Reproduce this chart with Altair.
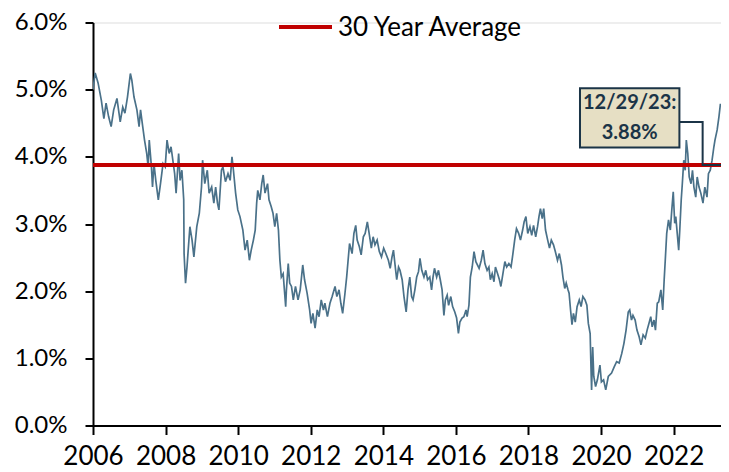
import altair as alt
import pandas as pd

# 10-year yield series (decimal year, percent)
YEARS = [
    2006.00, 2006.06, 2006.14, 2006.23, 2006.30, 2006.36, 2006.43, 2006.50, 2006.57, 2006.66,
    2006.75, 2006.82, 2006.88, 2006.95, 2007.03, 2007.07, 2007.13, 2007.21, 2007.27, 2007.31,
    2007.37, 2007.42, 2007.48, 2007.52, 2007.55, 2007.61, 2007.64, 2007.68, 2007.73, 2007.80,
    2007.86, 2007.93, 2007.99, 2008.04, 2008.10, 2008.15, 2008.20, 2008.25, 2008.29, 2008.36,
    2008.40, 2008.45, 2008.50, 2008.51, 2008.55, 2008.59, 2008.63, 2008.67, 2008.73, 2008.78,
    2008.86, 2008.93, 2008.99, 2009.02, 2009.08, 2009.15, 2009.20, 2009.27, 2009.33, 2009.38,
    2009.43, 2009.47, 2009.54, 2009.58, 2009.65, 2009.72, 2009.78, 2009.83, 2009.87, 2009.93,
    2009.99, 2010.05, 2010.13, 2010.19, 2010.25, 2010.31, 2010.36, 2010.42, 2010.47, 2010.51,
    2010.54, 2010.60, 2010.65, 2010.69, 2010.74, 2010.81, 2010.85, 2010.91, 2010.96, 2011.01,
    2011.06, 2011.11, 2011.15, 2011.19, 2011.24, 2011.31, 2011.33, 2011.38, 2011.42, 2011.47,
    2011.52, 2011.58, 2011.65, 2011.71, 2011.78, 2011.83, 2011.90, 2011.97, 2012.01, 2012.06,
    2012.12, 2012.18, 2012.23, 2012.29, 2012.35, 2012.39, 2012.46, 2012.53, 2012.59, 2012.67,
    2012.72, 2012.78, 2012.83, 2012.88, 2012.94, 2012.99, 2013.03, 2013.07, 2013.14, 2013.19,
    2013.24, 2013.28, 2013.34, 2013.39, 2013.45, 2013.50, 2013.56, 2013.61, 2013.67, 2013.72,
    2013.77, 2013.83, 2013.89, 2013.95, 2014.01, 2014.07, 2014.14, 2014.19, 2014.24, 2014.28,
    2014.33, 2014.37, 2014.42, 2014.46, 2014.52, 2014.57, 2014.63, 2014.68, 2014.73, 2014.78,
    2014.82, 2014.87, 2014.92, 2014.97, 2015.01, 2015.06, 2015.12, 2015.17, 2015.22, 2015.28,
    2015.33, 2015.37, 2015.41, 2015.47, 2015.52, 2015.57, 2015.62, 2015.67, 2015.71, 2015.76,
    2015.80, 2015.86, 2015.91, 2015.97, 2016.02, 2016.07, 2016.11, 2016.17, 2016.22, 2016.28,
    2016.31, 2016.36, 2016.40, 2016.45, 2016.50, 2016.55, 2016.64, 2016.70, 2016.75, 2016.80,
    2016.86, 2016.91, 2016.95, 2017.00, 2017.05, 2017.09, 2017.15, 2017.20, 2017.24, 2017.29,
    2017.35, 2017.40, 2017.46, 2017.52, 2017.56, 2017.62, 2017.67, 2017.73, 2017.78, 2017.84,
    2017.88, 2017.93, 2017.98, 2018.04, 2018.09, 2018.14, 2018.20, 2018.25, 2018.29, 2018.33,
    2018.38, 2018.42, 2018.47, 2018.53, 2018.58, 2018.63, 2018.69, 2018.74, 2018.80, 2018.85,
    2018.91, 2018.95, 2019.00, 2019.04, 2019.09, 2019.12, 2019.16, 2019.20, 2019.24, 2019.29,
    2019.34, 2019.40, 2019.45, 2019.50, 2019.56, 2019.61, 2019.65, 2019.70, 2019.72, 2019.74,
    2019.77, 2019.80, 2019.85, 2019.90, 2019.97, 2020.01, 2020.07, 2020.13, 2020.20, 2020.29,
    2020.36, 2020.43, 2020.50, 2020.57, 2020.63, 2020.69, 2020.75, 2020.79, 2020.84, 2020.88,
    2020.94, 2020.99, 2021.05, 2021.10, 2021.16, 2021.22, 2021.27, 2021.32, 2021.37, 2021.41,
    2021.46, 2021.50, 2021.55, 2021.59, 2021.65, 2021.70, 2021.74, 2021.77, 2021.81, 2021.86,
    2021.91, 2021.95, 2021.99, 2022.03, 2022.06, 2022.10, 2022.14, 2022.17, 2022.21, 2022.24,
    2022.28, 2022.32, 2022.35, 2022.39, 2022.43, 2022.48, 2022.52, 2022.56, 2022.61, 2022.65,
    2022.70, 2022.75, 2022.81, 2022.86, 2022.92, 2022.96, 2023.01, 2023.06, 2023.11, 2023.14,
    2023.20, 2023.25, 2023.29,
]
YIELDS = [
    5.00, 5.25, 5.10, 4.84, 4.57, 4.80, 4.60, 4.45, 4.70, 4.87,
    4.52, 4.74, 4.65, 4.89, 5.24, 5.14, 4.89, 4.70, 4.45, 4.70,
    4.45, 4.25, 4.05, 3.85, 4.25, 3.85, 3.55, 3.90, 3.65, 3.36,
    3.60, 3.90, 3.85, 4.25, 4.05, 4.15, 3.95, 3.75, 3.46, 4.05,
    3.65, 3.80, 3.36, 2.56, 2.12, 2.36, 2.66, 2.96, 2.76, 2.51,
    2.96, 3.16, 3.55, 3.95, 3.60, 3.80, 3.46, 3.55, 3.31, 3.55,
    3.31, 3.21, 3.80, 3.85, 3.63, 3.75, 3.65, 4.00, 3.80, 3.46,
    3.21, 3.11, 2.91, 2.61, 2.76, 2.46, 2.61, 2.76, 2.91, 3.31,
    3.50, 3.36, 3.60, 3.73, 3.46, 3.60, 3.36, 3.26, 3.16, 2.96,
    3.16, 2.91, 2.46, 2.21, 2.26, 1.77, 2.02, 2.41, 2.12, 2.07,
    1.87, 2.07, 1.87, 2.02, 2.39, 2.17, 1.97, 1.72, 1.52, 1.67,
    1.45, 1.72, 1.62, 1.87, 1.72, 1.82, 1.62, 1.82, 1.92, 2.07,
    1.92, 2.02, 1.82, 1.67, 1.95, 2.21, 2.46, 2.71, 2.56, 2.86,
    2.98, 2.76, 2.66, 2.54, 2.81, 2.86, 3.03, 2.86, 2.64, 2.81,
    2.69, 2.76, 2.59, 2.51, 2.64, 2.56, 2.46, 2.34, 2.51, 2.61,
    2.36, 2.17, 2.36, 2.31, 2.17, 1.92, 1.69, 2.02, 2.21, 1.92,
    1.87, 2.02, 2.21, 2.29, 2.49, 2.31, 2.21, 2.31, 2.17, 2.21,
    2.02, 2.21, 2.34, 2.21, 2.31, 2.17, 2.02, 1.64, 1.87, 1.94,
    1.79, 1.92, 1.77, 1.69, 1.60, 1.37, 1.54, 1.60, 1.62, 1.72,
    1.62, 1.79, 2.21, 2.36, 2.59, 2.44, 2.34, 2.46, 2.61, 2.41,
    2.31, 2.36, 2.17, 2.26, 2.14, 2.36, 2.26, 2.17, 2.07, 2.24,
    2.44, 2.36, 2.41, 2.36, 2.51, 2.76, 2.93, 2.86, 2.76, 2.91,
    3.03, 3.11, 2.86, 2.96, 2.83, 2.98, 2.81, 2.96, 3.11, 3.23,
    3.08, 3.23, 2.91, 2.76, 2.64, 2.76, 2.69, 2.59, 2.46, 2.56,
    2.39, 2.21, 2.04, 2.12, 2.02, 1.97, 1.72, 1.50, 1.67, 1.54,
    1.77, 1.87, 1.77, 1.92, 1.87, 1.79, 1.52, 1.37, 0.93, 0.53,
    1.17, 0.73, 0.58, 0.68, 0.90, 0.65, 0.68, 0.53, 0.73, 0.78,
    0.87, 0.95, 0.93, 1.07, 1.22, 1.42, 1.69, 1.72, 1.57, 1.64,
    1.57, 1.42, 1.32, 1.20, 1.35, 1.30, 1.42, 1.52, 1.62, 1.47,
    1.57, 1.42, 1.82, 1.84, 2.02, 1.72, 2.17, 2.46, 2.86, 3.06,
    2.91, 3.21, 3.48, 3.01, 3.11, 2.86, 2.61, 2.91, 3.36, 3.60,
    3.95, 3.80, 4.25, 4.05, 3.70, 3.60, 3.80, 3.55, 3.40, 3.70,
    3.55, 3.46, 3.31, 3.55, 3.40, 3.75, 3.80, 3.95, 4.15, 4.25,
    4.40, 4.60, 4.79,
]

AVERAGE = 3.88
X_TICKS = [2006, 2008, 2010, 2012, 2014, 2016, 2018, 2020, 2022]
Y_TICKS = [0, 1, 2, 3, 4, 5, 6]
X_DOMAIN = [2006, 2023.306]
LEGEND_LABEL = "30 Year Average"
NOTE_LINES = ["12/29/23:", "3.88%"]

# annotation placement (data coordinates)
BOX = {"x": 2019.42, "x2": 2022.16, "y": 5.02, "y2": 4.14}
LEADER_X = [2022.16, 2022.80, 2022.80, 2023.306]
LEADER_Y = [4.52, 4.52, AVERAGE, AVERAGE]
NOTE_X = [2020.79, 2020.79]
NOTE_Y = [4.80, 4.36]

FONT = "Lato"
LINE_COLOR = "#4A7189"
RED = "#C00000"
NAVY = "#1B3447"

series = pd.DataFrame({"year": YEARS, "yld": YIELDS})
avg_df = pd.DataFrame({"avg": [AVERAGE]})
box_df = pd.DataFrame([BOX])
leader_df = pd.DataFrame({"x": LEADER_X, "y": LEADER_Y, "o": list(range(len(LEADER_X)))})
note_df = pd.DataFrame({"x": NOTE_X, "y": NOTE_Y, "t": NOTE_LINES})
leg_df = pd.DataFrame({"label": [LEGEND_LABEL]})

xscale = alt.Scale(domain=X_DOMAIN, nice=False, zero=False)
yscale = alt.Scale(domain=[0, 6], nice=False, zero=True)

x_axis = alt.Axis(
    values=X_TICKS, format="d", title=None, grid=False, labelOverlap=False, labelFlush=False,
    domainColor="black", domainWidth=2, tickColor="black", tickWidth=2, tickSize=9,
    labelFont=FONT, labelFontSize=26, labelColor="black", labelPadding=9,
)
y_axis = alt.Axis(
    values=Y_TICKS, title=None, grid=False, labelOverlap=False, labelFlush=False,
    labelExpr="format(datum.value, '.1f') + '%'",
    domainColor="black", domainWidth=2, tickColor="black", tickWidth=2, tickSize=8,
    labelFont=FONT, labelFontSize=24, labelColor="black", labelPadding=18,
)

line = alt.Chart(series).mark_line(color=LINE_COLOR, strokeWidth=1.7, clip=True).encode(
    x=alt.X("year:Q", scale=xscale, axis=x_axis),
    y=alt.Y("yld:Q", scale=yscale, axis=y_axis),
)

avg_rule = alt.Chart(avg_df).mark_rule(color=RED, strokeWidth=4).encode(
    y=alt.Y("avg:Q", scale=yscale)
)

box = alt.Chart(box_df).mark_rect(fill="#E6DFC4", stroke=NAVY, strokeWidth=2).encode(
    x=alt.X("x:Q", scale=xscale), x2="x2:Q",
    y=alt.Y("y:Q", scale=yscale), y2="y2:Q",
)

leader = alt.Chart(leader_df).mark_line(color=NAVY, strokeWidth=2, strokeCap="square").encode(
    x=alt.X("x:Q", scale=xscale), y=alt.Y("y:Q", scale=yscale), order="o:Q"
)

note = alt.Chart(note_df).mark_text(
    font=FONT, fontSize=20, fontWeight="bold", color=NAVY, align="center", baseline="middle"
).encode(
    x=alt.X("x:Q", scale=xscale), y=alt.Y("y:Q", scale=yscale), text="t:N"
)

leg_line = alt.Chart(leg_df).mark_rule(color=RED, strokeWidth=4).encode(
    x=alt.value(186), x2=alt.value(239), y=alt.value(4.5)
)
leg_text = alt.Chart(leg_df).mark_text(
    font=FONT, fontSize=26, color="black", align="left", baseline="middle"
).encode(x=alt.value(245), y=alt.value(5), text="label:N")

chart = alt.layer(line, avg_rule, leader, box, note, leg_line, leg_text).properties(
    width=628, height=403,
    autosize=alt.AutoSizeParams(type="none"),
    padding={"left": 85, "top": 14.5, "right": 0, "bottom": 46.5},
).configure_view(stroke=None).configure(background="white")

chart.save("out.html", embed_options={"renderer": "svg", "actions": False})
